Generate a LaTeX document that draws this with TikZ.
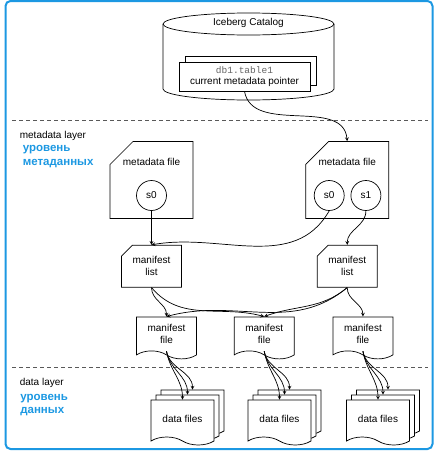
\documentclass[tikz,border=0pt]{standalone}
\usepackage{fontspec}
\setmainfont{Liberation Sans}
\setmonofont{Liberation Mono}
\usepackage{tikz}
\usetikzlibrary{shapes.misc, shapes.symbols, arrows, positioning}

\definecolor{layerblue}{RGB}{28,152,226}

\begin{document}
\begin{tikzpicture}[
    x=1pt, y=1pt,
    font=\fontsize{10}{12}\selectfont,
    line width=0.7pt,
    ptrbox/.style={rectangle, draw, fill=white, minimum width=131pt, minimum height=29pt, inner sep=0pt, align=center},
    mdfile/.style={chamfered rectangle, chamfered rectangle corners=north west, chamfered rectangle xsep=8pt, chamfered rectangle ysep=15pt, draw, fill=white, minimum width=83pt, minimum height=77pt, inner sep=0pt, text depth=36pt},
    mlist/.style={chamfered rectangle, chamfered rectangle corners=north west, chamfered rectangle xsep=4pt, chamfered rectangle ysep=7pt, draw, fill=white, minimum width=60pt, minimum height=42pt, inner sep=0pt, align=center},
    snap/.style={circle, draw, fill=white, minimum size=30pt, inner sep=0pt},
    mfile/.style={tape, tape bend top=none, tape bend bottom=out and in, tape bend height=8pt, draw, fill=white, minimum width=60pt, minimum height=42pt, inner sep=0pt, align=center},
    dfile/.style={mfile, minimum width=63pt, minimum height=45pt},
    layer/.style={anchor=base west, inner sep=0pt},
    rulabel/.style={layer, font=\fontsize{11.5}{13}\selectfont\bfseries, text=layerblue},
    arrow/.style={->,>=stealth},
    divider/.style={dashed, dash pattern=on 4pt off 3pt, draw=black!65}
]
\useasboundingbox (0,0) rectangle (439,-453);

% Frame
\draw[layerblue, line width=2pt, rounded corners=5pt] (5.5,-1) rectangle (432.5,-449);

% Catalog
\draw[fill=white] (163,-24) -- (163,-89) arc[start angle=180, end angle=360, x radius=85.5, y radius=11] -- (334,-24);
\draw (248.5,-24) ellipse[x radius=85.5, y radius=11];
\node (cat) at (248.5,-23) {Iceberg Catalog};
\node[ptrbox] (ptrbk) at (250.5,-70.5) {};
\node[ptrbox] (ptr) at (244.5,-76.5) {{\fontsize{9.5}{10}\selectfont\ttfamily\color{black!60}db1.table1}\\[-1pt]current metadata pointer};

% Layers
\draw[divider] (12,-120) -- (428,-120);
\draw[divider] (12,-367) -- (428,-367);
\node[layer] (mdlayer) at (19.5,-138.5) {metadata layer};
\node[rulabel] (mdru1) at (22.5,-151) {уровень};
\node[rulabel] (mdru2) at (22.5,-165) {метаданных};
\node[layer] (dlayer) at (19.5,-385.5) {data layer};
\node[rulabel] (dru1) at (20,-400) {уровень};
\node[rulabel] (dru2) at (20,-413.5) {данных};

% Metadata files
\node[mdfile] (md1) at (151.5,-180) {metadata file};
\node[mdfile, right=112pt of md1] (md2) {metadata file};
\node[snap, above=8pt of md1.south] (s0a) {s0};
\node[snap, above=8pt of md2.south, xshift=-18pt] (s0b) {s0};
\node[snap, right=6pt of s0b] (s1) {s1};

% Manifest lists
\node[mlist, below=26pt of md1] (ml1) {manifest\\list};
\node[mlist, below=26pt of md2] (ml2) {manifest\\list};

% Manifest files
\node[mfile, below=29pt of ml1, xshift=15pt] (mf1) {manifest\\file};
\node[mfile, right=37pt of mf1] (mf2) {manifest\\file};
\node[mfile, right=38pt of mf2] (mf3) {manifest\\file};

% Data files
\node[dfile] (df1c) at (192.5,-408.5) {};
\node[dfile] (df1b) at ([shift={(-5,-5)}]df1c) {};
\node[dfile] (df1a) at ([shift={(-5,-5)}]df1b) {data files};
\node[dfile] (df2c) at (289.5,-408.5) {};
\node[dfile] (df2b) at ([shift={(-5,-5)}]df2c) {};
\node[dfile] (df2a) at ([shift={(-5,-5)}]df2b) {data files};
\node[dfile] (df3c) at (388,-408.5) {};
\node[dfile] (df3b) at ([shift={(-5,-5)}]df3c) {};
\node[dfile] (df3a) at ([shift={(-5,-5)}]df3b) {data files};

% Connections
\draw[arrow] (ptr.south) to[out=-80, in=95] (md2.north);
\draw[arrow] (s0a.south) -- (ml1.north);
\draw[arrow] (s0b.south) to[out=-120, in=10] (ml1.north);
\draw[arrow] (s1.south) to[out=-90, in=90] (ml2.north);

\draw[arrow] (ml1.south) to[out=-90, in=90] (mf1.north);
\draw[arrow] (ml1.south) to[out=-50, in=165] (mf2.north);
\draw[arrow] (ml2.south) to[out=-140, in=15] (mf1.north);
\draw[arrow] (ml2.south) to[out=-140, in=20] (mf2.north);
\draw[arrow] (ml2.south) to[out=-90, in=90] (mf3.north);

\draw[arrow] (mf1.south) to[out=-80, in=90] (df1a.north);
\draw[arrow] (mf1.south) to[out=-80, in=90] (df1b.north);
\draw[arrow] (mf1.south) to[out=-80, in=90] (df1c.north);
\draw[arrow] (mf2.south) to[out=-80, in=90] (df2a.north);
\draw[arrow] (mf2.south) to[out=-80, in=90] (df2b.north);
\draw[arrow] (mf2.south) to[out=-80, in=90] (df2c.north);
\draw[arrow] (mf3.south) to[out=-80, in=90] (df3a.north);
\draw[arrow] (mf3.south) to[out=-80, in=90] (df3b.north);
\draw[arrow] (mf3.south) to[out=-80, in=90] (df3c.north);

\end{tikzpicture}
\end{document}
